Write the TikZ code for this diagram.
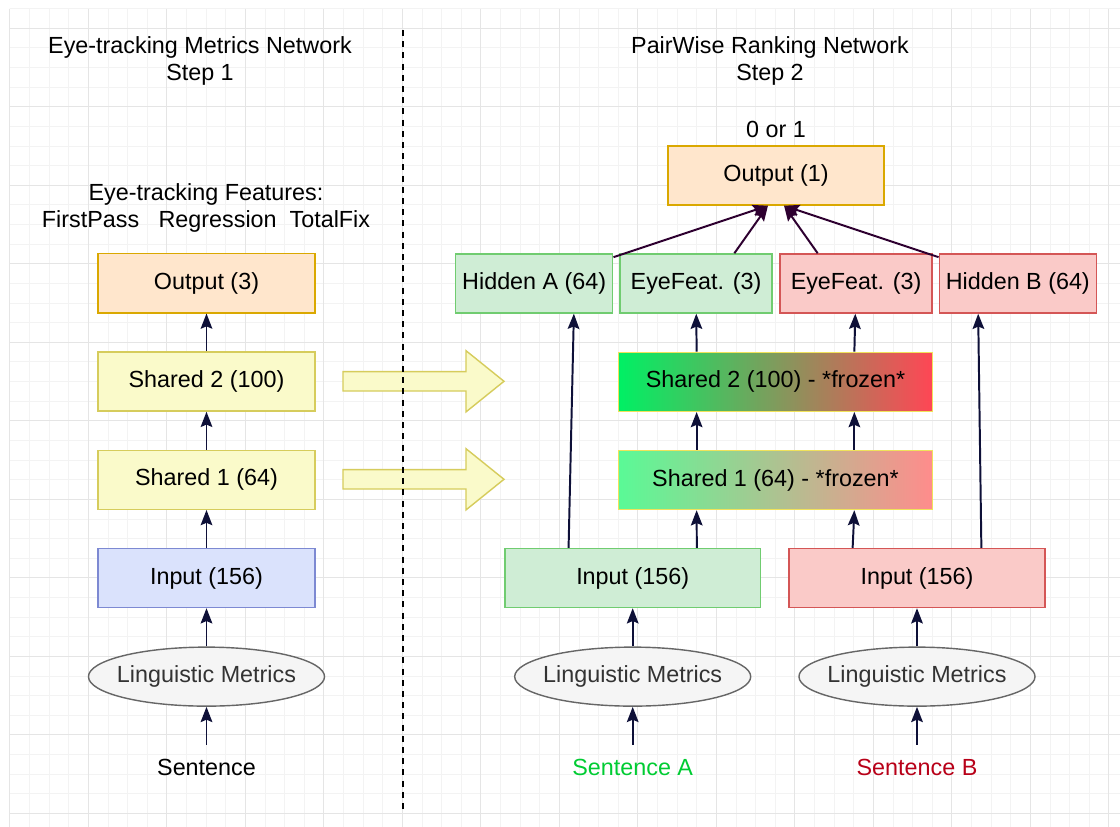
\documentclass[tikz,border=0pt]{standalone}
\usepackage{fontspec}
\setmainfont{Liberation Sans}
\usepackage{tikz}
\usetikzlibrary{calc, positioning, arrows.meta, shapes.geometric}
\definecolor{gridMinor}{RGB}{243,243,243}
\definecolor{gridMajor}{RGB}{229,229,229}
\definecolor{outFill}{RGB}{255,230,204}
\definecolor{outLine}{RGB}{218,168,0}
\definecolor{shFill}{RGB}{250,250,202}
\definecolor{shLine}{RGB}{214,204,92}
\definecolor{inFill}{RGB}{218,226,252}
\definecolor{inLine}{RGB}{125,137,210}
\definecolor{aFill}{RGB}{207,237,213}
\definecolor{aLine}{RGB}{112,204,112}
\definecolor{bFill}{RGB}{250,202,200}
\definecolor{bLine}{RGB}{212,86,86}
\definecolor{lmFill}{RGB}{245,245,245}
\definecolor{lmLine}{RGB}{102,102,102}
\definecolor{flowC}{RGB}{14,16,56}
\definecolor{topC}{RGB}{46,0,48}
\definecolor{sentAC}{RGB}{0,204,51}
\definecolor{sentBC}{RGB}{184,0,24}
\definecolor{frozLine}{RGB}{240,226,90}
\definecolor{fzTwoL}{RGB}{0,240,100}
\definecolor{fzTwoM}{RGB}{208,184,108}
\definecolor{fzTwoR}{RGB}{255,70,85}
\definecolor{fzOneL}{RGB}{90,250,150}
\definecolor{fzOneM}{RGB}{214,218,162}
\definecolor{fzOneR}{RGB}{255,140,140}

\begin{document}
\begin{tikzpicture}[x=0.025cm, y=-0.025cm, font=\fontsize{16.6}{19.5}\selectfont,
    layer/.style={draw, line width=1pt, minimum width=5.425cm, minimum height=1.475cm, inner sep=0pt},
    metric/.style={ellipse, draw=lmLine, fill=lmFill, line width=1pt, minimum width=5.9cm,
                   minimum height=1.475cm, inner xsep=-0.45cm, inner ysep=0pt, text=black!80},
    sent/.style={minimum height=1.1cm, inner sep=0pt},
    flow/.style={-{Stealth[length=0.38cm, width=0.29cm, inset=0.06cm]}, line width=1.4pt, draw=flowC},
    merge/.style={flow, draw=topC},
    bigArrow/.style={draw=shLine, fill=shFill, line width=1pt, line join=miter},
    sepLine/.style={draw=black, line width=1.4pt, dash pattern=on 0.15cm off 0.13cm}]
  \useasboundingbox (0,0) rectangle (1120,827);
  \fill[white] (0,0) rectangle (1120,827);

  % background grid
  \foreach \k in {0,...,56}
    \draw[gridMinor, line width=0.5pt] ({9.8+19.625*\k},8.6) -- ({9.8+19.625*\k},827);
  \foreach \k in {0,...,41}
    \draw[gridMinor, line width=0.5pt] (9.8,{8.6+19.625*\k}) -- (1120,{8.6+19.625*\k});
  \foreach \k in {0,4,...,56}
    \draw[gridMajor, line width=0.8pt] ({9.8+19.625*\k},8.6) -- ({9.8+19.625*\k},827);
  \foreach \k in {1,5,...,41}
    \draw[gridMajor, line width=0.8pt] (9.8,{8.6+19.625*\k}) -- (1120,{8.6+19.625*\k});

  % transfer arrows and separator
  \foreach \y in {381.3, 479.3}
    \draw[bigArrow] (343,{\y-9.7}) -- (466,{\y-9.7}) -- (466,{\y-30.6}) -- (504,\y)
      -- (466,{\y+30.6}) -- (466,{\y+9.7}) -- (343,{\y+9.7}) -- cycle;
  \draw[sepLine] (403,30) -- (403,812);

  % step 1
  \node[align=center] (titleL) at (200,61) {Eye-tracking Metrics Network\\Step 1};
  \node[align=center] (feat) at (206,208) {Eye-tracking Features:\\FirstPass~~~Regression~~TotalFix};
  \node[layer, draw=inLine, fill=inFill] (inL) at (206.5,578) {Input (156)};
  \node[layer, draw=shLine, fill=shFill, above=0.945cm of inL] (shOneL) {Shared 1 (64)};
  \node[layer, draw=shLine, fill=shFill, above=0.945cm of shOneL] (shTwoL) {Shared 2 (100)};
  \node[layer, draw=outLine, fill=outFill, above=0.945cm of shTwoL] (outL) {Output (3)};
  \node[metric, below=0.955cm of inL] (lmL) {Linguistic Metrics};
  \node[sent] (sentL) at (206.5,767) {Sentence};

  \draw[flow] (sentL) -- (lmL);
  \draw[flow] (lmL) -- (inL);
  \draw[flow] (inL) -- (shOneL);
  \draw[flow] (shOneL) -- (shTwoL);
  \draw[flow] (shTwoL) -- (outL);

  % step 2
  \node[align=center] (titleR) at (770,61) {PairWise Ranking Network\\Step 2};
  \node (bin) at (776,129) {0 or 1};
  \node[layer, draw=outLine, fill=outFill, minimum width=5.4cm] (outR) at (776,175.5) {Output (1)};
  \node[layer, draw=aLine, fill=aFill, minimum width=3.8cm] (efA) at (696,283.5) {EyeFeat. (3)};
  \node[layer, draw=bLine, fill=bFill, minimum width=3.8cm, right=0.165cm of efA] (efB) {EyeFeat. (3)};
  \node[layer, draw=aLine, fill=aFill, minimum width=3.925cm, left=0.145cm of efA] (hidA) {Hidden A (64)};
  \node[layer, draw=bLine, fill=bFill, minimum width=3.925cm, right=0.145cm of efB] (hidB) {Hidden B (64)};
  \node[layer, draw=frozLine, minimum width=7.85cm, left color=fzOneL, middle color=fzOneM,
        right color=fzOneR] (shOneR) at (775.5,480) {Shared 1 (64) - *frozen*};
  \node[layer, draw=frozLine, minimum width=7.85cm, left color=fzTwoL, middle color=fzTwoM,
        right color=fzTwoR, above=0.945cm of shOneR] (shTwoR) {Shared 2 (100) - *frozen*};
  \node[layer, draw=aLine, fill=aFill, minimum width=6.375cm] (inA) at (632.7,578) {Input (156)};
  \node[layer, draw=bLine, fill=bFill, minimum width=6.4cm] (inB) at (917,578) {Input (156)};
  \node[metric, below=0.955cm of inA] (lmA) {Linguistic Metrics};
  \node[metric, below=0.955cm of inB] (lmB) {Linguistic Metrics};
  \node[sent, text=sentAC] (sentA) at (632.7,767) {Sentence A};
  \node[sent, text=sentBC] (sentB) at (917,767) {Sentence B};

  \draw[flow] (sentA) -- (lmA);
  \draw[flow] (lmA) -- (inA);
  \draw[flow] (sentB) -- (lmB);
  \draw[flow] (lmB) -- (inB);
  \draw[flow] ($(inA.north west)!0.25!(inA.north east)$) -- ($(hidA.south west)!0.75!(hidA.south east)$);
  \draw[flow] ($(inA.north west)!0.75!(inA.north east)$) -- ($(shOneR.south west)!0.25!(shOneR.south east)$);
  \draw[flow] ($(inB.north west)!0.25!(inB.north east)$) -- ($(shOneR.south west)!0.75!(shOneR.south east)$);
  \draw[flow] ($(inB.north west)!0.75!(inB.north east)$) -- ($(hidB.south west)!0.25!(hidB.south east)$);
  \draw[flow] ($(shOneR.north west)!0.25!(shOneR.north east)$) -- ($(shTwoR.south west)!0.25!(shTwoR.south east)$);
  \draw[flow] ($(shOneR.north west)!0.75!(shOneR.north east)$) -- ($(shTwoR.south west)!0.75!(shTwoR.south east)$);
  \draw[flow] ($(shTwoR.north west)!0.25!(shTwoR.north east)$) -- (efA);
  \draw[flow] ($(shTwoR.north west)!0.75!(shTwoR.north east)$) -- (efB);

  \draw[merge] (hidA) -- ($(outR.south west)!0.463!(outR.south east)$);
  \draw[merge] ($(efA.north west)!0.75!(efA.north east)$) -- ($(outR.south west)!0.463!(outR.south east)$);
  \draw[merge] ($(efB.north west)!0.25!(efB.north east)$) -- ($(outR.south west)!0.537!(outR.south east)$);
  \draw[merge] (hidB) -- ($(outR.south west)!0.537!(outR.south east)$);
\end{tikzpicture}
\end{document}
